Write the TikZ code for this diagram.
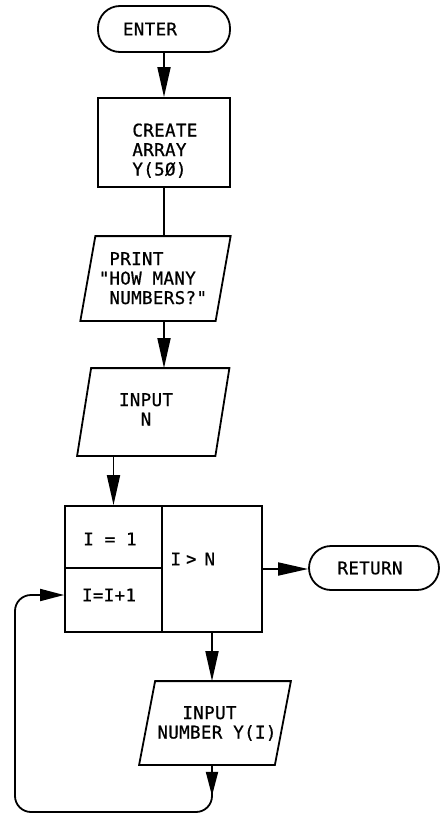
\documentclass[tikz,border=0pt]{standalone}
\usepackage{fontspec}
\newfontfamily\fc{DejaVu Sans Mono}[LetterSpace=2.0,FakeBold=0.8]
\newfontfamily\fcb{DejaVu Sans Mono Bold}
\usetikzlibrary{arrows.meta,decorations.markings}
\newcommand\tfont{\fc\fontsize{17.5pt}{19.5pt}\selectfont}
\newcommand\parashape[2]{\draw ([xshift=#2pt]#1.north west) -- ([xshift=#2pt]#1.north east) -- ([xshift=-#2pt]#1.south east) -- ([xshift=-#2pt]#1.south west) -- cycle;}
\begin{document}
\begin{tikzpicture}[x=1pt,y=-1pt,line width=1.8pt,
  term/.style={draw, rectangle, rounded corners=22pt, inner sep=0pt, font=\tfont},
  cell/.style={draw, rectangle, inner sep=0pt},
  ghost/.style={rectangle, inner sep=0pt},
  txt/.style={font=\tfont, inner sep=0pt},
  arr/.style={-{Triangle[length=30pt,width=13pt]}},
  arrs/.style={-{Triangle[length=24pt,width=12pt]}}]
\useasboundingbox (0,0) rectangle (441,816);

\node[term, minimum width=132pt, minimum height=46pt] (enter) at (164,29) {ENTER\kern28pt};

\node[cell, minimum width=132pt, minimum height=89pt] (create) at (164,142.5) {};
\node[txt, anchor=base west, align=left] (createtxt) at (131.5,175.5) {CREATE\\ARRAY\\Y(5Ø)};

\node[ghost, minimum width=133.5pt, minimum height=83pt] (print) at (155.5,278.5) {};
\parashape{print}{7.5}
\node[txt, anchor=base west, align=left] (printtxt) at (108.5,304) {PRINT\\\llap{"}HOW MANY\\NUMBERS?"};

\node[ghost, minimum width=136.5pt, minimum height=86pt] (inputn) at (153.25,412) {};
\parashape{inputn}{7}
\node[txt, anchor=base, align=center] (inputntxt) at (146,425.5) {INPUT\\N};

\node[cell, minimum width=97pt, minimum height=62pt] (init) at (113.5,537) {};
\node[cell, minimum width=97pt, minimum height=64pt] (incr) at (113.5,600) {};
\node[cell, minimum width=100pt, minimum height=126pt] (test) at (212,569) {};
\node[txt, anchor=base] (inittxt) at (110,545.4) {I = 1};
\node[txt, anchor=base] (incrtxt) at (109,601.4) {I=I+1};
\node[txt, anchor=base west] (testtxt) at (169.6,565.4) {I\hspace{5pt}{\fcb >}\hspace{8pt}N};

\node[term, minimum width=130pt, minimum height=44pt] (ret) at (374,568) {RETURN\kern8pt};

\node[ghost, minimum width=134pt, minimum height=82pt] (inum) at (215,723) {};
\parashape{inum}{8}
\node[txt, anchor=base west, align=left] (inumtxt) at (156.5,738.5) {\hspace*{25pt}INPUT\\NUMBER Y(I)};

\draw[arr] (enter.south) -- (create.north);
\draw (create.south) -- (create.south |- print.north);
\draw[arr] (create.south |- print.south) -- (create.south |- inputn.north);
\draw[arr] (init.north |- inputn.south) -- (init.north);
\draw[arr] (test.east) -- (test.east -| ret.west);
\draw[arr] (test.south) -- (test.south |- inum.north);

\coordinate (c1) at (212,812);
\coordinate (c2) at (15,812);
\coordinate (c3) at (15,595);
\draw[arrs, rounded corners=16pt, postaction={decorate},
  decoration={markings, mark=at position 31pt with {\arrow{Triangle[length=24pt,width=12pt]}}}]
  (test.south |- inum.south) -- (c1) -- (c2) -- (c3) -- ([yshift=5pt]incr.west);
\end{tikzpicture}
\end{document}
